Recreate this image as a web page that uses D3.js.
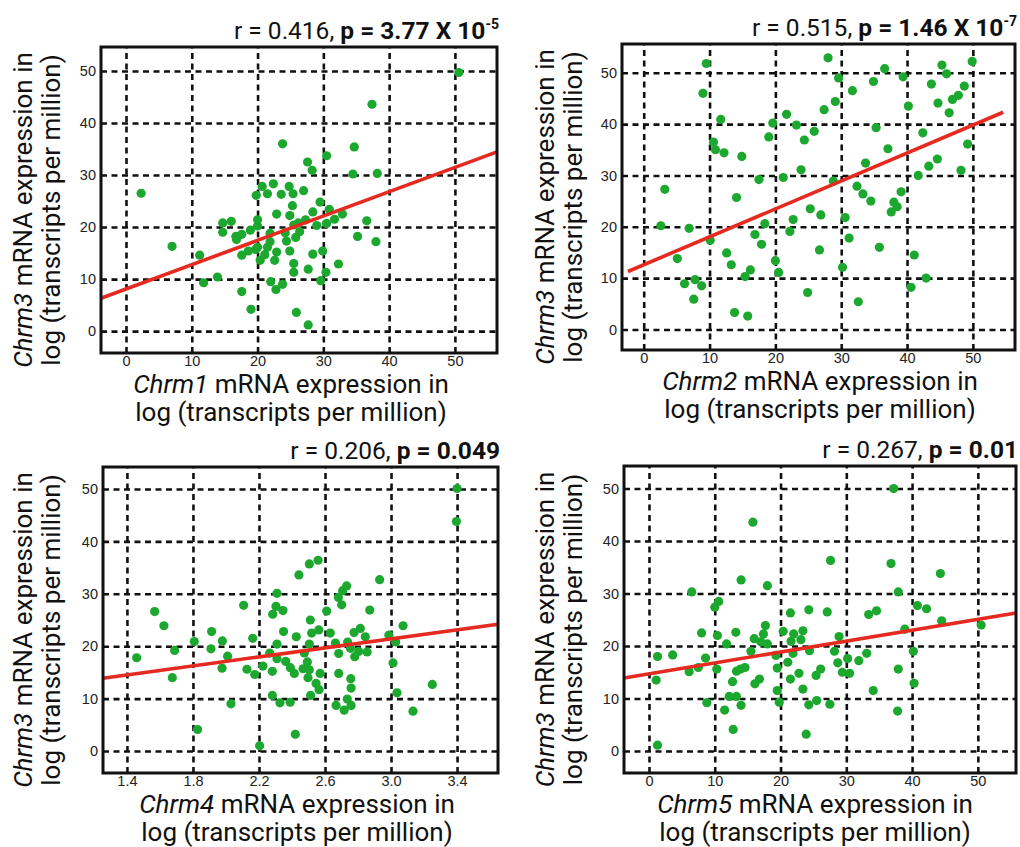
<!DOCTYPE html>
<html>
<head>
<meta charset="utf-8">
<script src="https://cdn.jsdelivr.net/npm/d3@7"></script>
<style>
  body { margin: 0; background: #fff; }
  svg { display: block; font-family: Roboto, "Open Sans", sans-serif; }
  .tick text { fill: #222; }
</style>
</head>
<body>
<div id="chart"></div>
<script>
// Chrm1 vs Chrm3
const chrm1Points = [
  [50.6, 49.7], [37.4, 43.6], [23.8, 36.0], [34.7, 35.4], [30.5, 33.7], [2.3, 26.5], [7.0, 16.3],
  [27.6, 32.5], [28.3, 30.9], [34.5, 30.2], [38.2, 30.3], [20.7, 27.8], [22.4, 28.3], [24.8, 27.8],
  [19.8, 26.1], [21.5, 26.4], [23.6, 26.3], [25.4, 26.4], [27.0, 27.0], [25.3, 24.1], [29.5, 24.8],
  [22.9, 22.5], [24.9, 22.2], [28.4, 22.9], [30.9, 23.4], [32.9, 22.5], [31.7, 21.5], [27.3, 21.4],
  [26.2, 20.8], [30.5, 20.7], [29.0, 20.3], [36.6, 21.2], [14.7, 20.8], [16.0, 21.1], [14.7, 19.0],
  [17.6, 18.6], [16.8, 17.6], [18.9, 19.4], [20.0, 21.4], [20.0, 20.2], [21.9, 18.8], [24.2, 18.9],
  [25.5, 20.4], [25.8, 18.0], [26.4, 19.1], [24.4, 17.3], [35.2, 18.2], [38.0, 17.2], [17.6, 14.6],
  [18.6, 15.4], [20.0, 16.1], [20.4, 13.6], [21.5, 16.1], [21.9, 17.2], [21.1, 14.7], [22.9, 15.2],
  [22.6, 13.6], [24.9, 15.4], [25.5, 13.0], [28.4, 14.8], [29.9, 15.4], [11.2, 14.6], [13.9, 10.4],
  [11.8, 9.3], [17.6, 7.6], [19.0, 4.2], [22.0, 9.5], [22.8, 8.0], [23.8, 9.0], [25.5, 11.3],
  [27.7, 11.9], [30.4, 11.3], [32.3, 12.9], [29.6, 9.7], [25.9, 3.6], [27.7, 1.2], [16.7, 18.2],
  [19.7, 15.7]
];

// Chrm2 vs Chrm3
const chrm2Points = [
  [28.0, 52.9], [9.5, 51.8], [49.9, 52.2], [36.6, 50.8], [45.3, 51.5], [46.0, 49.8], [29.6, 49.0],
  [39.4, 49.2], [34.9, 48.3], [43.7, 47.8], [48.7, 47.4], [9.0, 46.0], [31.7, 46.5], [47.8, 45.6],
  [46.9, 44.8], [29.1, 44.4], [44.7, 44.1], [40.2, 43.5], [27.4, 42.8], [46.4, 42.2], [21.7, 41.9],
  [11.7, 40.9], [19.6, 40.2], [23.2, 39.8], [35.3, 39.3], [25.9, 38.6], [42.4, 38.3], [19.0, 37.5],
  [24.4, 36.9], [10.6, 36.5], [10.9, 35.0], [12.2, 34.4], [49.2, 36.1], [37.1, 35.2], [14.9, 33.7],
  [44.6, 33.2], [43.3, 31.8], [33.7, 32.4], [23.9, 31.1], [48.2, 31.0], [41.7, 30.0], [21.2, 29.6],
  [17.5, 29.2], [28.8, 28.9], [3.2, 27.3], [32.4, 27.9], [33.3, 26.4], [39.1, 26.8], [34.5, 25.0],
  [14.1, 25.7], [38.0, 24.8], [38.5, 23.9], [37.6, 22.9], [25.3, 23.5], [26.9, 22.3], [30.6, 21.8],
  [22.7, 21.4], [2.6, 20.2], [6.9, 19.7], [18.4, 20.6], [22.2, 19.1], [16.9, 18.5], [10.1, 17.4],
  [17.9, 16.6], [31.2, 17.8], [35.8, 16.0], [26.7, 15.5], [12.6, 14.9], [5.1, 13.8], [41.1, 14.5],
  [13.3, 12.6], [20.0, 13.4], [30.2, 12.1], [20.5, 11.1], [16.2, 11.6], [15.4, 10.3], [7.8, 9.7],
  [6.2, 8.9], [8.8, 8.5], [42.9, 10.0], [40.6, 8.2], [7.6, 5.9], [24.9, 7.2], [32.6, 5.4],
  [13.8, 3.3], [15.8, 2.6]
];

// Chrm4 vs Chrm3
const chrm4Points = [
  [3.40, 50.1], [3.396, 43.8], [2.558, 36.4], [2.505, 35.7], [2.442, 33.6], [2.931, 32.7], [2.731, 31.5],
  [2.707, 30.6], [2.309, 30.1], [2.681, 29.3], [2.701, 27.9], [2.107, 27.8], [1.568, 26.6], [2.303, 27.6],
  [2.283, 26.1], [2.345, 26.8], [2.871, 26.9], [2.610, 26.7], [2.511, 25.0], [1.624, 23.9], [3.073, 23.9],
  [2.349, 22.8], [1.913, 22.8], [2.519, 22.5], [2.562, 23.1], [2.632, 22.5], [2.776, 22.6], [2.814, 23.4],
  [2.844, 21.8], [2.987, 22.1], [2.162, 21.5], [2.426, 21.8], [1.978, 21.0], [1.808, 20.9], [2.309, 20.4],
  [2.505, 20.4], [2.663, 20.6], [2.737, 20.8], [3.028, 20.8], [1.909, 19.5], [1.689, 19.2], [2.683, 18.6],
  [2.754, 19.6], [2.804, 19.0], [2.855, 18.9], [2.780, 18.0], [2.265, 18.7], [2.475, 18.7], [1.459, 17.8],
  [2.010, 18.1], [2.309, 17.6], [2.362, 17.1], [2.493, 17.0], [3.012, 16.8], [1.976, 15.8], [2.127, 15.6],
  [2.224, 16.2], [2.281, 15.2], [2.390, 15.9], [2.414, 14.8], [2.467, 15.7], [2.505, 15.5], [2.174, 14.6],
  [2.570, 14.8], [2.683, 14.8], [1.675, 14.0], [2.497, 14.0], [2.546, 12.9], [2.756, 13.8], [2.758, 12.0],
  [3.250, 12.7], [2.564, 11.7], [3.036, 11.1], [2.281, 10.6], [2.513, 10.6], [2.735, 9.9], [2.327, 9.2],
  [2.389, 9.3], [2.030, 9.0], [2.667, 8.7], [2.758, 8.7], [2.716, 7.8], [3.133, 7.6], [1.828, 4.1],
  [2.420, 3.2], [2.204, 1.0]
];

// Chrm5 vs Chrm3
const chrm5Points = [
  [37.2, 50.0], [15.8, 43.6], [27.6, 36.3], [36.8, 35.7], [44.3, 33.8], [14.0, 32.6], [18.0, 31.5],
  [6.5, 30.3], [37.9, 30.3], [10.6, 28.5], [10.0, 27.4], [40.8, 27.7], [42.2, 27.1], [24.3, 26.9],
  [27.1, 26.5], [21.5, 26.3], [34.6, 26.7], [33.4, 26.0], [44.5, 24.8], [50.5, 24.0], [17.7, 23.9],
  [8.0, 22.5], [13.2, 22.6], [10.4, 22.0], [20.4, 22.8], [22.0, 22.3], [23.4, 22.9], [38.9, 23.2],
  [16.0, 21.4], [17.4, 22.3], [28.9, 21.8], [11.8, 20.4], [17.0, 20.8], [18.0, 20.4], [21.6, 20.9],
  [23.1, 21.2], [1.3, 18.0], [3.6, 18.3], [15.5, 19.0], [19.3, 18.2], [21.9, 18.6], [24.4, 19.1],
  [28.2, 19.0], [33.1, 18.6], [40.2, 19.0], [8.6, 17.7], [30.2, 17.6], [31.9, 17.2], [10.3, 15.6],
  [6.1, 15.1], [7.5, 15.9], [13.3, 15.2], [13.9, 15.6], [14.6, 15.9], [19.5, 15.8], [21.1, 16.9],
  [28.7, 16.8], [37.9, 15.6], [22.8, 14.8], [26.1, 15.6], [25.4, 14.4], [29.4, 15.0], [30.5, 14.8],
  [1.1, 13.5], [12.7, 13.2], [16.8, 13.7], [16.1, 12.8], [21.5, 13.7], [40.3, 12.9], [19.5, 11.5],
  [23.4, 11.8], [34.1, 11.5], [12.2, 10.4], [13.3, 10.4], [8.8, 9.2], [14.0, 8.7], [19.8, 9.3],
  [24.3, 8.8], [25.5, 9.6], [27.5, 8.9], [11.5, 7.8], [37.8, 7.6], [12.8, 4.1], [23.9, 3.2],
  [1.3, 1.1]
];

const xGenes = ["Chrm1", "Chrm2", "Chrm4", "Chrm5"];
const yGene = "Chrm3";
const rValues = ["0.416", "0.515", "0.206", "0.267"];
const pMantissa = ["3.77", "1.46", "0.049", "0.01"];
const pExponent = ["-5", "-7", null, null];
const fitIntercept = [8.1, 12.6, 8.5, 14.7];
const fitSlope = [0.467, 0.544, 4.3, 0.208];
const fitXRange = [[-3.8, 56.4], [-2.4, 54.6], [1.255, 3.648], [-3.8, 55.8]];
const xDomains = [[-3.8, 56.4], [-3.3, 56.4], [1.255, 3.648], [-3.8, 55.8]];
const yDomains = [[-4.2, 54.6], [-4.0, 55.6], [-4.2, 54.2], [-4.2, 54.3]];
const xTickValues = [
  [0, 10, 20, 30, 40, 50], [0, 10, 20, 30, 40, 50],
  [1.4, 1.8, 2.2, 2.6, 3.0, 3.4], [0, 10, 20, 30, 40, 50]
];
const yTickValues = [0, 10, 20, 30, 40, 50];
const allPoints = [chrm1Points, chrm2Points, chrm4Points, chrm5Points];

// frame boxes [left, top, right, bottom]
const frames = [
  [101, 47, 497, 353],
  [622, 44, 1015, 350],
  [103, 467, 498, 773],
  [624, 466, 1016, 773]
];
const yLabelX = [32, 554, 32, 554];
const xLabelX = [291, 820, 297, 815];

const svg = d3.select("#chart").append("svg").attr("width", 1020).attr("height", 847);

function drawPanel(i) {
  const [l, t, r, b] = frames[i];
  const x = d3.scaleLinear(xDomains[i], [l, r]);
  const y = d3.scaleLinear(yDomains[i], [b, t]);
  const g = svg.append("g");

  // grid + tick labels
  const gx = g.append("g")
    .attr("transform", `translate(0,${b})`)
    .call(d3.axisBottom(x).tickValues(xTickValues[i])
      .tickFormat(i === 2 ? d3.format(".1f") : d3.format("d"))
      .tickSize(-(b - t)).tickPadding(3));
  const gy = g.append("g")
    .attr("transform", `translate(${l},0)`)
    .call(d3.axisLeft(y).tickValues(yTickValues).tickSize(-(r - l)).tickPadding(5));
  [gx, gy].forEach((a) => {
    a.select(".domain").remove();
    a.selectAll(".tick line")
      .attr("stroke", "#111").attr("stroke-width", 2.6).attr("stroke-dasharray", "6,4.5");
    a.selectAll(".tick text").attr("font-size", 14.5);
  });

  // points
  g.append("g").selectAll("circle")
    .data(allPoints[i])
    .join("circle")
    .attr("cx", (d) => x(d[0]))
    .attr("cy", (d) => y(d[1]))
    .attr("r", 4.6)
    .attr("fill", "#1ca82e");

  // regression line
  const fx = fitXRange[i];
  g.append("line")
    .attr("x1", x(fx[0])).attr("y1", y(fitIntercept[i] + fitSlope[i] * fx[0]))
    .attr("x2", x(fx[1])).attr("y2", y(fitIntercept[i] + fitSlope[i] * fx[1]))
    .attr("stroke", "#e52a20").attr("stroke-width", 3.6);

  // frame
  g.append("rect")
    .attr("x", l).attr("y", t).attr("width", r - l).attr("height", b - t)
    .attr("fill", "none").attr("stroke", "#111").attr("stroke-width", 3);

  // title
  const title = g.append("text")
    .attr("x", r + 2).attr("y", t - 8)
    .attr("text-anchor", "end").attr("font-size", 24.5).attr("fill", "#111");
  title.append("tspan").text(`r = ${rValues[i]}, `);
  title.append("tspan").attr("font-weight", "bold").text(`p = ${pMantissa[i]}` + (pExponent[i] ? " X 10" : ""));
  if (pExponent[i]) {
    title.append("tspan").attr("font-weight", "bold").attr("font-size", 14).attr("dy", -10).text(pExponent[i]);
  }

  // x label
  const cx = xLabelX[i];
  const xl = g.append("text").attr("x", cx).attr("y", b + 40)
    .attr("text-anchor", "middle").attr("font-size", 26).attr("fill", "#111");
  xl.append("tspan").attr("font-style", "italic").text(xGenes[i]);
  xl.append("tspan").text(" mRNA expression in");
  g.append("text").attr("x", cx).attr("y", b + 68)
    .attr("text-anchor", "middle").attr("font-size", 26).attr("fill", "#111")
    .text("log (transcripts per million)");

  // y label
  const cy = (t + b) / 2 + 10;
  const yl = g.append("text")
    .attr("transform", `translate(${yLabelX[i]},${cy}) rotate(-90)`)
    .attr("text-anchor", "middle").attr("font-size", 26).attr("fill", "#111");
  yl.append("tspan").attr("font-style", "italic").text(yGene);
  yl.append("tspan").text(" mRNA expression in");
  g.append("text")
    .attr("transform", `translate(${yLabelX[i] + 28},${cy}) rotate(-90)`)
    .attr("text-anchor", "middle").attr("font-size", 26).attr("fill", "#111")
    .text("log (transcripts per million)");
}

for (let i = 0; i < 4; i++) drawPanel(i);
</script>
</body>
</html>
